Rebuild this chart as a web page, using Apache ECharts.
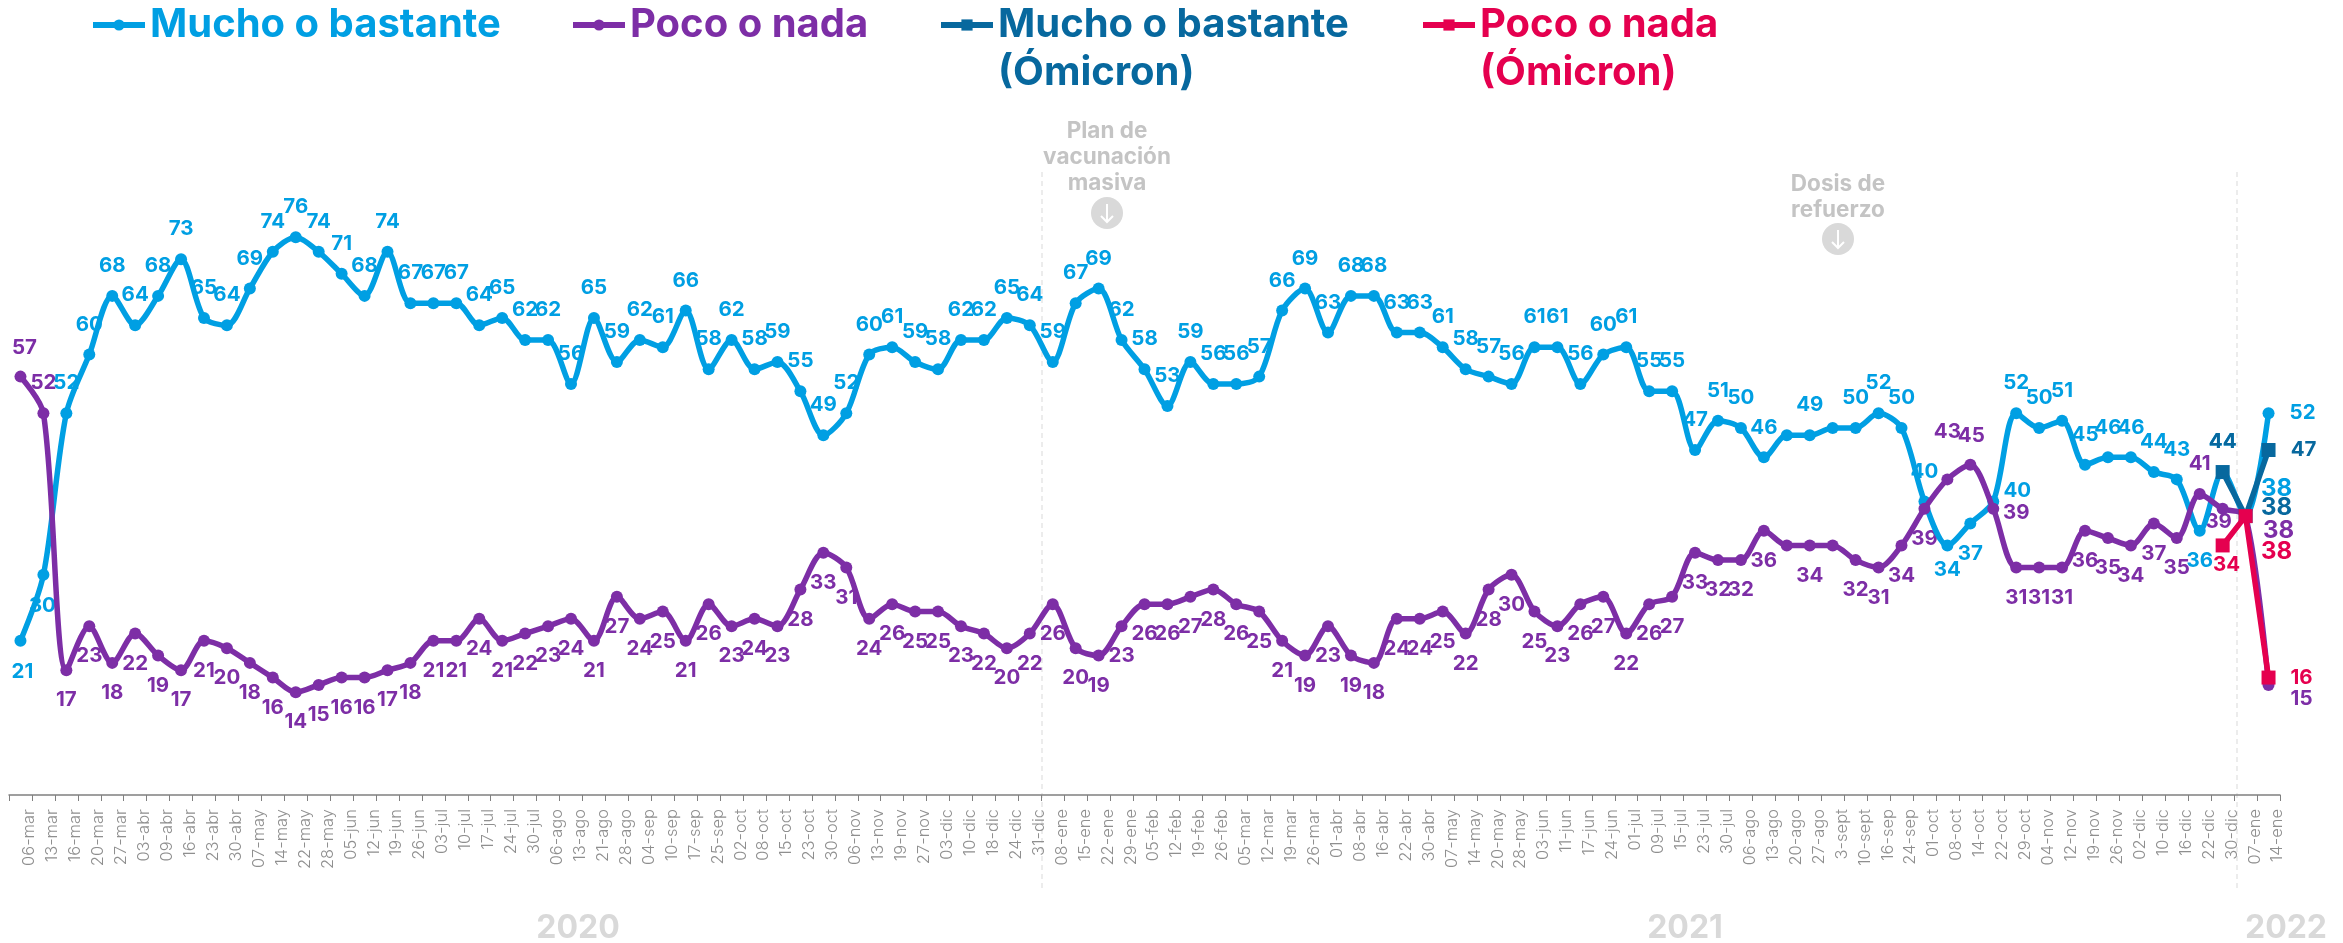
<!DOCTYPE html>
<html><head><meta charset="utf-8">
<style>html,body{margin:0;padding:0;background:#fff}#c{width:2343px;height:943px}</style>
<script src="https://cdn.jsdelivr.net/npm/echarts@6/dist/echarts.min.js"></script>
</head><body><div id="c"></div>
<script>
const categories = ["06-mar","13-mar","16-mar","20-mar","27-mar","03-abr","09-abr","16-abr","23-abr","30-abr","07-may","14-may","22-may","28-may","05-jun","12-jun","19-jun","26-jun","03-jul","10-jul","17-jul","24-jul","30-jul","06-ago","13-ago","21-ago","28-ago","04-sep","10-sep","17-sep","25-sep","02-oct","08-oct","15-oct","23-oct","30-oct","06-nov","13-nov","19-nov","27-nov","03-dic","10-dic","18-dic","24-dic","31-dic",
"08-ene","15-ene","22-ene","29-ene","05-feb","12-feb","19-feb","26-feb","05-mar","12-mar","19-mar","26-mar","01-abr","08-abr","16-abr","22-abr","30-abr","07-may","14-may","20-may","28-may","03-jun","11-jun","17-jun","24-jun","01-jul","09-jul","15-jul","23-jul","30-jul","06-ago","13-ago","20-ago","27-ago","3-sept","10-sept","16-sep","24-sep","01-oct","08-oct","14-oct","22-oct","29-oct","04-nov","12-nov","19-nov","26-nov","02-dic","10-dic","16-dic","22-dic","30-dic","07-ene","14-ene"];
const muchoBastante = [21,30,52,60,68,64,68,73,65,64,69,74,76,74,71,68,74,67,67,67,64,65,62,62,56,65,59,62,61,66,58,62,58,59,55,49,52,60,61,59,58,62,62,65,64,59,67,69,62,58,53,59,56,56,57,66,69,63,68,68,63,63,61,58,57,56,61,61,56,60,61,55,55,47,51,50,46,49,49,50,50,52,50,40,34,37,40,52,50,51,45,46,46,44,43,36,44,38,52];
const pocoNada = [57,52,17,23,18,22,19,17,21,20,18,16,14,15,16,16,17,18,21,21,24,21,22,23,24,21,27,24,25,21,26,23,24,23,28,33,31,24,26,25,25,23,22,20,22,26,20,19,23,26,26,27,28,26,25,21,19,23,19,18,24,24,25,22,28,30,25,23,26,27,22,26,27,33,32,32,36,34,34,34,32,31,34,39,43,45,39,31,31,31,36,35,34,37,35,41,39,38,15];
const omicronIdx = 96;
const muchoOmicron = [44,38,47];
const pocoOmicron = [34,38,16];
const yearLabels = ["2020","2021","2022"];

const NAME_A = "Mucho o bastante", NAME_B = "Poco o nada";
const NAME_C = "Mucho o bastante\n(Ómicron)", NAME_D = "Poco o nada\n(Ómicron)";
const BLUE="#009fe3", PURPLE="#7d2ea6", NAVY="#07689e", RED="#e5004f";
const FONT = "Inter, 'Noto Sans', sans-serif";

// label placement (offset from the point, px)
const blueOffsets = {0:[2,31],1:[-1,31],84:[0,24],85:[0,30],86:[24,-11],95:[0,30],97:[31,-27],98:[34,0]};
const purpleOffsets = {0:[4,-29],1:[0,-30],84:[0,-48],85:[1,-29],86:[23,4],95:[0,-30],96:[-4,13],97:[33,15],98:[33,14]};
const navyOffsets = {0:[0,-30],1:[31,-8],2:[35,0]};
const redOffsets = {0:[4,19],1:[31,36],2:[33,0]};
const hiddenLabels = [77,79];
const bigLabelIdx = 97;

function pad(arr){ return categories.map((_,i)=> (i>=omicronIdx && i-omicronIdx<arr.length)? arr[i-omicronIdx] : null); }

function labelData(values, offsets, dflt, start){
  return values.map((v,i)=>{
    if(v==null) return {value:null};
    const key = i-(start||0);
    const show = start!=null || !hiddenLabels.includes(i);
    const label = {show,offset:offsets[key]||dflt};
    if(i===bigLabelIdx) label.fontSize = 24;
    return {value:v,label};
  });
}
function lineSeries(name,values,color,smooth,symbol,size,z){
  return {name,type:'line',data:values,smooth:smooth,smoothConstraint:false,connectNulls:false,
    symbol,symbolSize:size,showSymbol:true,z,silent:true,
    lineStyle:{color,width:5.5},itemStyle:{color},label:{show:false},animation:false};
}
function labelSeries(name,data,color,z){
  return {name,type:'line',data,symbol:'circle',symbolSize:2,showSymbol:true,z,silent:true,
    lineStyle:{opacity:0},itemStyle:{color:'rgba(0,0,0,0)',opacity:0},animation:false,
    label:{show:true,position:'inside',color,opacity:1,fontFamily:FONT,fontWeight:700,fontSize:20.5}};
}
const omA = pad(muchoOmicron), omB = pad(pocoOmicron);
const series = [
  lineSeries(NAME_A,muchoBastante,BLUE,0.3,'circle',12,3),
  lineSeries(NAME_B,pocoNada,PURPLE,0.3,'circle',12,4),
  lineSeries(NAME_C,omA,NAVY,false,'rect',14,5),
  lineSeries(NAME_D,omB,RED,false,'rect',14,6),
  labelSeries(NAME_A,labelData(muchoBastante,blueOffsets,[0,-30]),BLUE,1),
  labelSeries(NAME_B,labelData(pocoNada,purpleOffsets,[0,30]),PURPLE,1),
  labelSeries(NAME_C,labelData(omA,navyOffsets,[0,-30],omicronIdx),NAVY,1),
  labelSeries(NAME_D,labelData(omB,redOffsets,[0,30],omicronIdx),RED,1)
];
function legendAt(name,left,top,color,twoLine){
  const l = {data:[name],left,top,padding:0,itemWidth:52,itemHeight:14,itemGap:0,selectedMode:false,
    lineStyle:{width:6},
    textStyle:{color,fontFamily:FONT,fontWeight:700,fontSize:40,lineHeight:48}};
  if(twoLine) l.formatter = n => "\n"+n;
  return l;
}
function arrow(cx,cy){
  return {type:'group',children:[
    {type:'circle',shape:{cx,cy,r:16},style:{fill:'#d9d9d9'}},
    {type:'polyline',shape:{points:[[cx,cy-9],[cx,cy+9]]},style:{stroke:'#fff',lineWidth:2,fill:null}},
    {type:'polyline',shape:{points:[[cx-6,cy+3],[cx,cy+9],[cx+6,cy+3]]},style:{stroke:'#fff',lineWidth:2,fill:null}}
  ]};
}
function gtext(text,x,y,size,color,lh){
  return {type:'text',x,y,style:{text,fill:color,font:`700 ${size}px ${FONT}`,align:'center',verticalAlign:'middle',lineHeight:lh||size}};
}
function vline(x){
  return {type:'line',shape:{x1:x,y1:172,x2:x,y2:892},style:{stroke:'#e6e6e6',lineWidth:1.5,lineDash:[5,4]},z:0};
}
const option = {
  backgroundColor:'#fff',animation:false,
  grid:{left:9,right:63,top:61,bottom:148},
  legend:[
    legendAt(NAME_A,90,1,BLUE,false),
    legendAt(NAME_B,570,1,PURPLE,false),
    legendAt(NAME_C,938,-47,NAVY,true),
    legendAt(NAME_D,1420,-47,RED,true)
  ],
  xAxis:{type:'category',data:categories,boundaryGap:true,
    axisLine:{lineStyle:{color:'#808080',width:1.5}},
    axisTick:{show:true,length:6,interval:0,alignWithLabel:false,lineStyle:{color:'#808080',width:1}},
    axisLabel:{interval:0,rotate:90,margin:14,color:'#8f8f8f',fontFamily:FONT,fontWeight:300,fontSize:16.5,lineHeight:18,verticalAlign:'top',hideOverlap:false},
    splitLine:{show:false}},
  yAxis:{type:'value',min:0,max:100,show:false,splitLine:{show:false}},
  graphic:[
    vline(1042),vline(2237),
    gtext("Plan de\nvacunación\nmasiva",1107,157,22.5,'#c4c4c4',26),
    arrow(1107,213),
    gtext("Dosis de\nrefuerzo",1838,197,22.5,'#c4c4c4',26),
    arrow(1838,239),
    gtext(yearLabels[0],578,928,32,'#d9d9d9'),
    gtext(yearLabels[1],1685,928,32,'#d9d9d9'),
    gtext(yearLabels[2],2286,928,32,'#d9d9d9')
  ],
  series
};
echarts.init(document.getElementById('c'),null,{renderer:'canvas'}).setOption(option);
</script></body></html>
